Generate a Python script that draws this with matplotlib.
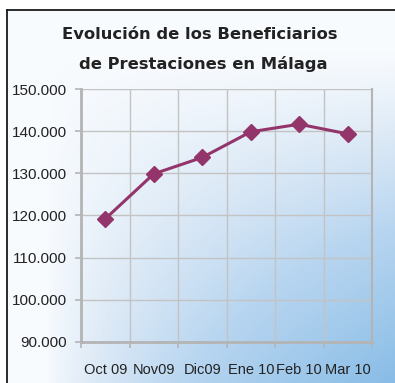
import numpy as np
import matplotlib
matplotlib.use("Agg")
import matplotlib.pyplot as plt
from matplotlib.lines import Line2D
from matplotlib.colors import LinearSegmentedColormap

# Beneficiarios de prestaciones en Málaga, Oct 2009 – Mar 2010
months = ["Oct 09", "Nov09", "Dic09", "Ene 10", "Feb 10", "Mar 10"]
beneficiarios = [119200, 129900, 133800, 139900, 141700, 139400]
y_ticks = [90000, 100000, 110000, 120000, 130000, 140000, 150000]
y_tick_labels = ["90.000", "100.000", "110.000", "120.000", "130.000", "140.000", "150.000"]
title_lines = ["Evolución de los Beneficiarios", "de Prestaciones en Málaga"]

W, H, DPI = 395, 383, 100
fig = plt.figure(figsize=(W / DPI, H / DPI), dpi=DPI)
fig.patch.set_facecolor("white")

# Background gradient: white at the top-left, blue toward the bottom-right
bg = fig.add_axes([0, 0, 1, 1], zorder=0)
bg.set_axis_off()
fx0, fy0 = 7, 10
X, Y = np.meshgrid(np.arange(W), np.arange(H))
u = np.clip((X - fx0 - 40) / (W - fx0 - 40), 0, 1)
v = np.clip((Y - fy0 - 40) / (H - fy0 - 40), 0, 1)
t = np.clip((u ** 0.75) * (v ** 1.1), 0, 1)
cmap = LinearSegmentedColormap.from_list(
    "bg", [(0.0, "#f8fbfe"), (0.2, "#dfebf7"), (0.5, "#b7d5f0"), (1.0, "#88bce6")])
img = cmap(t)
img[(X < fx0) | (Y < fy0)] = (1, 1, 1, 1)
bg.imshow(img, extent=[0, W, H, 0], aspect="auto", interpolation="bilinear")
bg.set_xlim(0, W)
bg.set_ylim(H, 0)

# Black frame on the left and top edges
fig.add_artist(Line2D([fx0 / W, fx0 / W], [0, 1 - fy0 / H], transform=fig.transFigure,
                      color="#1a1a1a", lw=1.3, zorder=5))
fig.add_artist(Line2D([fx0 / W, 1], [1 - fy0 / H, 1 - fy0 / H], transform=fig.transFigure,
                      color="#1a1a1a", lw=1.3, zorder=5))

# Plot area
left, right, top, bottom = 81, 372, 89.3, 341.7
ax = fig.add_axes([left / W, 1 - bottom / H, (right - left) / W, (bottom - top) / H], zorder=2)
ax.patch.set_alpha(0)

x = np.arange(len(months))
ax.plot(x, beneficiarios, color="#93346a", lw=2.2, marker="D", ms=8.2,
        markeredgecolor="#93346a", markerfacecolor="#93346a", zorder=4, clip_on=False)

ax.set_xlim(-0.5, len(months) - 0.5)
ax.set_ylim(90000, 150000)
ax.set_yticks(y_ticks)
ax.set_yticklabels(y_tick_labels)
ax.set_xticks(x)
ax.set_xticklabels(months)
ax.set_xticks(np.arange(len(months) + 1) - 0.5, minor=True)

grid_c = "#c3c3c3"
ax.grid(True, which="major", axis="y", color=grid_c, lw=1.0, zorder=1)
ax.grid(True, which="minor", axis="x", color=grid_c, lw=1.0, zorder=1)
ax.grid(False, which="major", axis="x")

for side in ["left", "bottom", "right", "top"]:
    ax.spines[side].set_color("#b4b4b4")
ax.spines["left"].set_linewidth(2.0)
ax.spines["bottom"].set_linewidth(2.0)
ax.spines["right"].set_linewidth(1.5)
ax.spines["top"].set_visible(False)

font = "Liberation Sans"
ax.tick_params(axis="y", which="major", length=4, width=1.2, color="#b4b4b4",
               labelsize=11, labelcolor="#222222", pad=6)
ax.tick_params(axis="x", which="major", length=0, labelsize=10.5, labelcolor="#222222", pad=15)
ax.tick_params(axis="x", which="minor", length=4, width=1.2, color="#b4b4b4")
for lab in ax.get_yticklabels() + ax.get_xticklabels():
    lab.set_fontfamily(font)

# Title
fig.text(200 / W, 1 - 39 / H, title_lines[0], ha="center", va="baseline", fontsize=11.8,
         fontweight="bold", fontfamily="DejaVu Sans", color="#222222", zorder=6)
fig.text(203 / W, 1 - 68.5 / H, title_lines[1], ha="center", va="baseline", fontsize=11.8,
         fontweight="bold", fontfamily="DejaVu Sans", color="#222222", zorder=6)

fig.savefig("out.png", dpi=DPI)
